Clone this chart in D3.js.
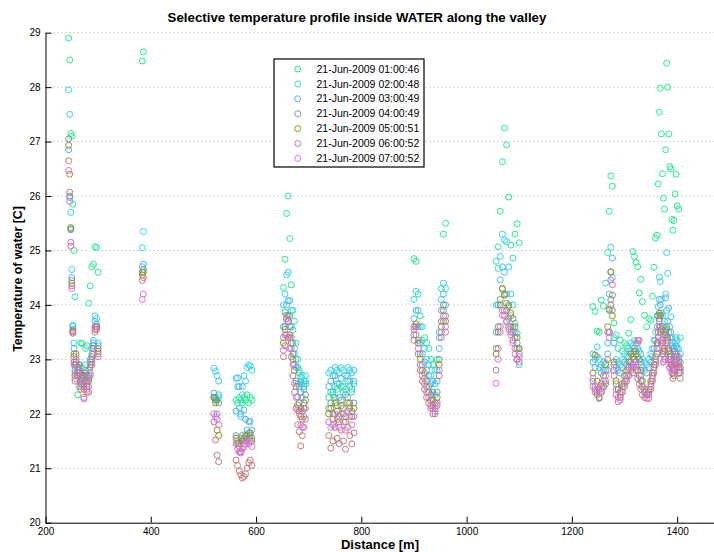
<!DOCTYPE html>
<html>
<head>
<meta charset="utf-8">
<script src="https://cdn.jsdelivr.net/npm/d3@7"></script>
<style>
    body { margin: 0; background: #fff; }
    svg { font-family: "Liberation Sans", Arial, sans-serif; }
</style>
</head>
<body>
<svg id="chart" width="714" height="552"></svg>
<script>
// sensor positions along the cable [m], grouped by water section
const distance = [
    244, 246, 248, 250, 252, 254, 256,
    258, 261, 264, 267, 270, 273, 276, 279, 282, 285, 288, 291, 294, 297, 300,
    384, 386,
    520, 523, 526, 529,
    562, 565, 568, 571, 574, 577, 580, 583, 586, 589, 592,
    652, 655, 658, 661, 664, 667, 670, 673, 676, 679, 682, 685, 688, 691, 694,
    738, 742, 746, 750, 754, 758, 762, 766, 770, 774, 778, 782, 786,
    900, 904, 908, 912, 916, 920, 924, 928, 932, 936, 940, 944, 948, 952, 956, 960,
    1056, 1060, 1064, 1068, 1072, 1076, 1080, 1084, 1088, 1092, 1096, 1100,
    1240, 1244, 1248, 1252, 1256, 1260, 1264, 1268, 1271, 1274, 1277, 1280,
    1284, 1288, 1292, 1296, 1300, 1304, 1308, 1312, 1316, 1319, 1322, 1325,
    1328, 1331, 1334, 1338, 1342, 1346, 1350, 1353, 1356, 1359, 1362, 1364,
    1366, 1368, 1370, 1372, 1374, 1376, 1378, 1380, 1382, 1384, 1386, 1388,
    1390, 1392, 1394, 1396, 1398, 1400, 1403, 1406
];

const t0100 = [
    28.9, 28.5, 27.15, 27.1, 25.85, 25.0, 24.15,
    22.9, 22.35, 22.5, 23.3, 23.29, 22.7, 23.2, 23.25, 24.03, 24.35, 24.7, 24.75, 25.07, 25.05, 24.6,
    28.48, 28.65,
    22.3, 22.28, 22.25, 22.3,
    22.25, 22.2, 22.3, 22.25, 22.2, 22.3, 22.25, 22.35, 22.2, 22.3, 22.25,
    24.32, 24.84, 25.68, 26.0, 25.22, 24.37, 23.9, 23.7, 23.3, 23.0, 22.8, 22.6, 22.7, 22.5, 22.6,
    22.3, 22.4, 22.35, 22.5, 22.45, 22.55, 22.5, 22.4, 22.45, 22.6, 22.5, 22.4, 22.55,
    24.85, 24.8, 24.2, 23.8, 23.6, 23.4, 23.3, 23.2, 23.0, 22.9, 22.8, 23.0, 23.5, 24.3, 25.3, 25.5,
    24.8, 25.07, 25.72, 26.63, 27.25, 26.94, 25.98, 25.1, 24.86, 25.3, 25.49, 25.14,
    23.97, 23.88, 23.52, 23.5, 24.09, 23.98, 24.4, 24.96, 25.72, 26.37, 26.18, 23.67,
    23.45, 23.2, 23.35, 23.15, 23.3, 23.25, 23.48, 23.73, 24.98, 24.89, 24.78, 24.7,
    24.22, 24.47, 24.06, 23.81, 23.6, 23.75, 23.72, 24.16, 24.69, 25.23, 25.28, 26.22,
    27.54, 27.98, 27.14, 26.41, 25.96, 25.76, 26.85, 28.44, 28.0, 27.14, 26.54, 26.5,
    25.57, 25.37, 25.55, 26.04, 26.4, 25.82, 25.76, 23.4
];

const t0200 = [
    27.95, 27.5, 25.7, 24.65, 23.63, 23.3, 22.9,
    23.0, 22.8, 22.9, 22.7, 22.85, 22.6, 22.9, 22.7, 22.8, 23.0, 23.2, 23.35, 23.8, 23.75, 23.3,
    25.05, 25.35,
    22.84, 22.78, 22.7, 22.6,
    22.65, 22.5, 22.1, 22.0, 22.35, 22.7, 22.6, 22.85, 22.9, 22.88, 22.8,
    24.0, 24.2, 24.55, 24.6, 24.08, 23.9, 23.54, 23.2, 23.0, 22.86, 22.75, 22.68, 22.55, 22.6, 22.7,
    22.75, 22.8, 22.7, 22.85, 22.8, 22.75, 22.85, 22.8, 22.7, 22.85, 22.8, 22.75, 22.8,
    24.1, 24.25, 23.9, 23.6, 23.35, 23.2, 23.0, 22.9, 22.7, 22.6, 22.55, 22.8, 23.4, 24.1, 24.4, 24.3,
    24.0, 24.67, 24.89, 25.3, 25.19, 25.16, 24.7, 24.2, 24.0, 23.66, 23.48, 22.9,
    23.1, 23.0, 23.23, 23.0, 22.9, 22.95, 22.93, 23.3, 24.2, 25.06, 24.5, 23.4,
    23.0, 22.95, 22.9, 23.0, 23.1, 23.05, 23.2, 23.3, 23.25, 23.35, 23.3, 23.2,
    23.15, 23.1, 23.0, 22.95, 22.9, 23.0, 23.1, 23.2, 23.35, 23.5, 23.8, 23.97,
    24.51, 24.43, 24.1, 23.8, 23.6, 23.7, 24.2, 24.96, 24.58, 23.94, 23.6, 23.78,
    23.4, 23.3, 23.2, 23.3, 23.4, 23.35, 23.2, 23.1
];

const t0300 = [
    26.85, 25.97, 25.4, 24.45, 23.6, 23.2, 22.8,
    22.95, 22.75, 22.85, 22.6, 22.7, 22.55, 22.8, 22.6, 22.7, 22.95, 23.1, 23.3, 23.7, 23.65, 23.25,
    24.7, 24.75,
    22.38, 22.3, 22.25, 22.35,
    22.05, 22.66, 22.5, 21.95, 22.5, 22.07, 21.9, 21.7, 21.86, 21.86, 21.7,
    23.6, 23.87, 24.0, 24.08, 23.8, 23.6, 23.3, 23.1, 22.85, 22.55, 22.5, 22.4, 22.3, 22.45, 22.55,
    22.5, 22.6, 22.4, 22.7, 22.55, 22.3, 22.65, 22.5, 22.35, 22.7, 22.6, 22.45, 22.6,
    23.75, 23.9, 23.6, 23.3, 23.1, 22.95, 22.8, 22.7, 22.55, 22.4, 22.35, 22.6, 23.2, 23.9, 24.2, 24.0,
    23.5, 24.0, 24.46, 24.7, 24.6, 24.2, 24.0, 23.8, 23.6, 23.5, 23.3, 23.2,
    22.95, 22.85, 23.05, 22.85, 22.75, 22.8, 22.8, 23.1, 23.9, 24.6, 24.86, 23.3,
    22.85, 22.8, 22.75, 22.85, 22.95, 22.9, 23.05, 23.15, 23.1, 23.2, 23.15, 23.05,
    23.0, 22.95, 22.85, 22.8, 22.75, 22.85, 22.95, 23.05, 23.2, 23.35, 23.6, 23.8,
    24.1, 24.0, 23.85, 23.6, 23.45, 23.5, 24.13, 23.9, 23.7, 23.5, 23.4, 23.5,
    23.25, 23.15, 23.05, 23.15, 23.25, 23.2, 23.05, 22.95
];

const t0400 = [
    27.05, 26.0, 25.38, 24.5, 23.55, 23.1, 22.75,
    22.9, 22.7, 22.8, 22.55, 22.65, 22.5, 22.7, 22.55, 22.65, 22.9, 23.05, 23.25, 23.6, 23.6, 23.2,
    24.6, 24.65,
    22.3, 22.25, 22.0, 22.2,
    21.6, 21.5, 21.45, 21.55, 21.6, 21.55, 21.5, 21.6, 21.65, 21.6, 21.55,
    23.4, 23.6, 23.75, 23.8, 23.6, 23.4, 23.1, 22.9, 22.6, 22.31, 22.2, 22.1, 22.05, 22.2, 22.35,
    22.1, 22.2, 22.0, 22.3, 22.15, 21.95, 22.25, 22.1, 21.95, 22.3, 22.2, 22.05, 22.2,
    23.45, 23.6, 23.35, 23.1, 22.9, 22.75, 22.6, 22.5, 22.35, 22.25, 22.2, 22.4, 23.0, 23.7, 24.0, 23.8,
    23.2, 23.6, 24.1, 24.3, 24.2, 23.9, 23.75, 23.6, 23.5, 23.4, 23.2, 23.1,
    22.6, 22.45, 22.4, 22.28, 22.4, 22.5, 22.55, 22.8, 23.5, 24.1, 23.9, 22.9,
    22.55, 22.45, 22.35, 22.5, 22.6, 22.7, 22.85, 22.95, 22.9, 23.0, 22.95, 22.8,
    22.7, 22.6, 22.5, 22.4, 22.35, 22.4, 22.55, 22.7, 22.85, 23.0, 23.2, 23.4,
    23.7, 23.8, 23.5, 23.3, 23.1, 23.15, 23.5, 23.6, 23.4, 23.2, 23.05, 23.1,
    22.9, 22.74, 22.8, 22.9, 23.0, 22.95, 22.85, 22.75
];

const t0500 = [
    26.93, 26.4, 25.42, 24.4, 23.52, 23.05, 22.7,
    23.1, 22.85, 22.9, 22.6, 22.7, 22.45, 22.75, 22.5, 22.6, 22.85, 23.0, 23.2, 23.55, 23.6, 23.15,
    24.55, 24.6,
    22.3, 22.2, 21.7, 21.6,
    21.55, 21.45, 21.4, 21.3, 21.5, 21.45, 21.6, 21.5, 21.55, 21.65, 21.5,
    23.3, 23.55, 23.81, 23.7, 23.45, 23.3, 23.0, 22.8, 22.5, 22.16, 22.05, 21.95, 21.9, 22.1, 22.25,
    22.0, 22.1, 21.9, 22.2, 22.05, 21.85, 22.15, 22.0, 21.85, 22.2, 22.1, 21.95, 22.1,
    23.6, 23.65, 23.3, 23.0, 22.8, 22.65, 22.5, 22.4, 22.25, 22.15, 22.1, 22.3, 22.9, 23.6, 23.9, 23.7,
    23.1, 23.5, 24.0, 24.3, 24.18, 24.03, 23.97, 23.85, 23.75, 23.6, 23.4, 23.2,
    22.75, 23.08, 22.6, 22.45, 22.55, 22.7, 22.9, 23.6, 23.92, 24.61, 23.8, 22.95,
    22.6, 22.45, 22.4, 22.55, 22.7, 22.8, 22.95, 23.1, 23.05, 23.15, 23.1, 23.35,
    23.0, 22.8, 22.6, 22.45, 22.35, 22.45, 22.6, 22.75, 22.9, 23.05, 23.3, 23.5,
    23.85, 23.81, 23.55, 23.3, 23.15, 23.2, 23.45, 23.55, 23.35, 23.15, 23.0, 23.05,
    22.9, 22.85, 22.9, 23.0, 23.1, 23.05, 22.95, 22.85
];

const t0600 = [
    26.65, 26.07, 25.08, 24.35, 23.48, 22.95, 22.6,
    22.95, 22.7, 22.75, 22.45, 22.55, 22.3, 22.6, 22.4, 22.4, 22.7, 22.9, 23.1, 23.5, 23.55, 23.1,
    24.45, 24.5,
    21.85, 21.52, 21.24, 21.12,
    21.15, 21.05, 20.95, 20.88, 20.82, 20.85, 20.9, 21.0, 21.1, 21.15, 21.05,
    23.05, 23.25, 23.45, 23.4, 23.2, 23.05, 22.7, 22.4, 22.1, 21.8, 21.67, 21.41, 21.6, 21.75, 21.9,
    21.6, 21.37, 21.5, 21.75, 21.55, 21.45, 21.7, 21.5, 21.35, 21.75, 21.6, 21.45, 21.65,
    23.35, 23.45, 23.1, 22.8, 22.6, 22.45, 22.3, 22.2, 22.1, 22.0, 22.0, 22.15, 22.7, 23.4, 23.7, 23.5,
    22.8, 23.2, 23.6, 23.9, 23.8, 23.7, 23.6, 23.5, 23.35, 23.2, 23.0, 22.95,
    22.5, 22.4, 22.35, 22.3, 22.4, 22.5, 22.6, 23.0, 23.5, 24.0, 24.18, 22.7,
    22.35, 22.22, 22.3, 22.4, 22.5, 22.6, 22.7, 22.8, 22.75, 22.85, 22.8, 22.65,
    22.55, 22.45, 22.35, 22.3, 22.28, 22.35, 22.45, 22.6, 22.75, 22.9, 23.1, 23.3,
    23.75, 23.6, 23.35, 23.1, 22.95, 23.0, 23.3, 23.4, 23.2, 23.0, 22.85, 22.9,
    22.75, 22.65, 22.7, 22.8, 22.9, 22.85, 22.75, 22.65
];

const t0700 = [
    26.47, 25.9, 25.15, 24.3, 23.5, 22.9, 22.65,
    23.0, 22.75, 22.8, 22.5, 22.6, 22.27, 22.65, 22.45, 22.5, 22.75, 22.95, 23.2, 23.6, 23.55, 23.05,
    24.1, 24.2,
    22.0, 21.95, 21.9, 21.8,
    21.45, 21.35, 21.3, 21.28, 21.35, 21.4, 21.45, 21.5, 21.45, 21.5, 21.4,
    23.17, 23.45, 23.74, 23.69, 23.4, 23.2, 22.9, 22.56, 22.3, 22.07, 22.0, 21.79, 21.76, 21.95, 22.1,
    21.85, 21.75, 21.8, 22.0, 21.9, 21.75, 22.0, 21.85, 21.7, 22.05, 21.95, 21.8, 21.95,
    23.55, 23.6, 23.2, 22.9, 22.7, 22.55, 22.4, 22.3, 22.15, 22.1, 22.05, 22.2, 22.8, 23.5, 23.8, 23.6,
    22.56, 23.0, 23.5, 23.81, 23.9, 23.69, 23.55, 23.45, 23.3, 23.1, 22.99, 23.05,
    22.65, 22.5, 22.45, 22.4, 22.5, 22.6, 22.7, 23.5, 23.4, 24.46, 24.37, 22.8,
    22.45, 22.3, 22.25, 22.4, 22.55, 22.65, 22.8, 22.9, 22.85, 22.95, 22.9, 23.3,
    23.35, 22.7, 22.5, 22.4, 22.35, 22.28, 22.5, 22.65, 22.8, 22.95, 23.2, 23.4,
    23.6, 23.5, 23.3, 23.1, 22.95, 23.0, 23.3, 23.4, 23.2, 23.0, 22.85, 22.95,
    22.8, 22.8, 22.9, 23.0, 23.1, 23.05, 22.9, 22.8
];

const seriesNames = [
    "21-Jun-2009 01:00:46", "21-Jun-2009 02:00:48", "21-Jun-2009 03:00:49",
    "21-Jun-2009 04:00:49", "21-Jun-2009 05:00:51", "21-Jun-2009 06:00:52",
    "21-Jun-2009 07:00:52"
];
const xTicks = [200, 400, 600, 800, 1000, 1200, 1400];
const yTicks = [20, 21, 22, 23, 24, 25, 26, 27, 28, 29];

const seriesColors = ["#22ec8e", "#38d2f0", "#4ab6f6", "#6a9fa6", "#9a9218", "#c47a7a", "#da6ee4"];

drawChart();

function drawChart() {
    let svg = d3.select("#chart");
    let temps = [t0100, t0200, t0300, t0400, t0500, t0600, t0700];

    let x = d3.scaleLinear().domain([200, 1470]).range([45.5, 714]);
    let y = d3.scaleLinear().domain([20, 29]).range([522.7, 32.7]);

    // dotted horizontal grid
    svg.append("g")
        .selectAll("line")
        .data(yTicks.slice(1))
        .enter()
        .append("line")
        .attr("x1", x(200))
        .attr("x2", 714)
        .attr("y1", d => y(d))
        .attr("y2", d => y(d))
        .attr("stroke", "#a8a8a8")
        .attr("stroke-width", 1)
        .attr("stroke-dasharray", "1,3");

    // points, one group per time step
    temps.forEach((series, i) => {
        let pts = distance.map((d, k) => ({ d: d, t: series[k] }));
        svg.append("g")
            .selectAll("circle")
            .data(pts)
            .enter()
            .append("circle")
            .attr("cx", p => x(p.d))
            .attr("cy", p => y(p.t))
            .attr("r", 3)
            .attr("fill", "none")
            .attr("stroke", seriesColors[i])
            .attr("stroke-width", 1);
    });

    let xAxis = svg.append("g")
        .attr("transform", `translate(0,${y(20)})`)
        .call(d3.axisBottom(x).tickValues(xTicks).tickFormat(d3.format("d"))
            .tickSize(-6).tickSizeOuter(0).tickPadding(5));
    let yAxis = svg.append("g")
        .attr("transform", `translate(${x(200)},0)`)
        .call(d3.axisLeft(y).tickValues(yTicks).tickSize(-6).tickSizeOuter(0).tickPadding(5));

    [xAxis, yAxis].forEach(a => {
        a.selectAll("text").attr("font-size", 10).attr("fill", "#000")
            .attr("font-family", "Liberation Sans, Arial, sans-serif");
        a.selectAll("line, path").attr("stroke", "#000");
    });

    svg.append("text")
        .attr("x", 357)
        .attr("y", 22)
        .attr("text-anchor", "middle")
        .attr("font-size", 13.3)
        .attr("font-weight", "bold")
        .text("Selective temperature profile inside WATER along the valley");

    svg.append("text")
        .attr("x", 380)
        .attr("y", 549)
        .attr("text-anchor", "middle")
        .attr("font-size", 13)
        .attr("font-weight", "bold")
        .text("Distance [m]");

    svg.append("text")
        .attr("transform", "translate(22,279) rotate(-90)")
        .attr("text-anchor", "middle")
        .attr("font-size", 12.4)
        .attr("font-weight", "bold")
        .text("Temperature of water [C]");

    drawLegend(svg);
}

function drawLegend(svg) {
    let lg = svg.append("g").attr("transform", "translate(274,59)");
    lg.append("rect")
        .attr("width", 150)
        .attr("height", 108)
        .attr("fill", "#fff")
        .attr("stroke", "#000")
        .attr("stroke-width", 1.2);

    let rows = lg.selectAll("g.row")
        .data(seriesNames)
        .enter()
        .append("g")
        .attr("class", "row")
        .attr("transform", (d, i) => `translate(0,${10 + i * 14.9})`);

    rows.append("circle")
        .attr("cx", 23.7)
        .attr("r", 3)
        .attr("fill", "none")
        .attr("stroke", (d, i) => seriesColors[i])
        .attr("stroke-width", 1);

    rows.append("text")
        .attr("x", 42.5)
        .attr("dy", "0.35em")
        .attr("font-size", 10.5)
        .text(d => d);
}
</script>
</body>
</html>
